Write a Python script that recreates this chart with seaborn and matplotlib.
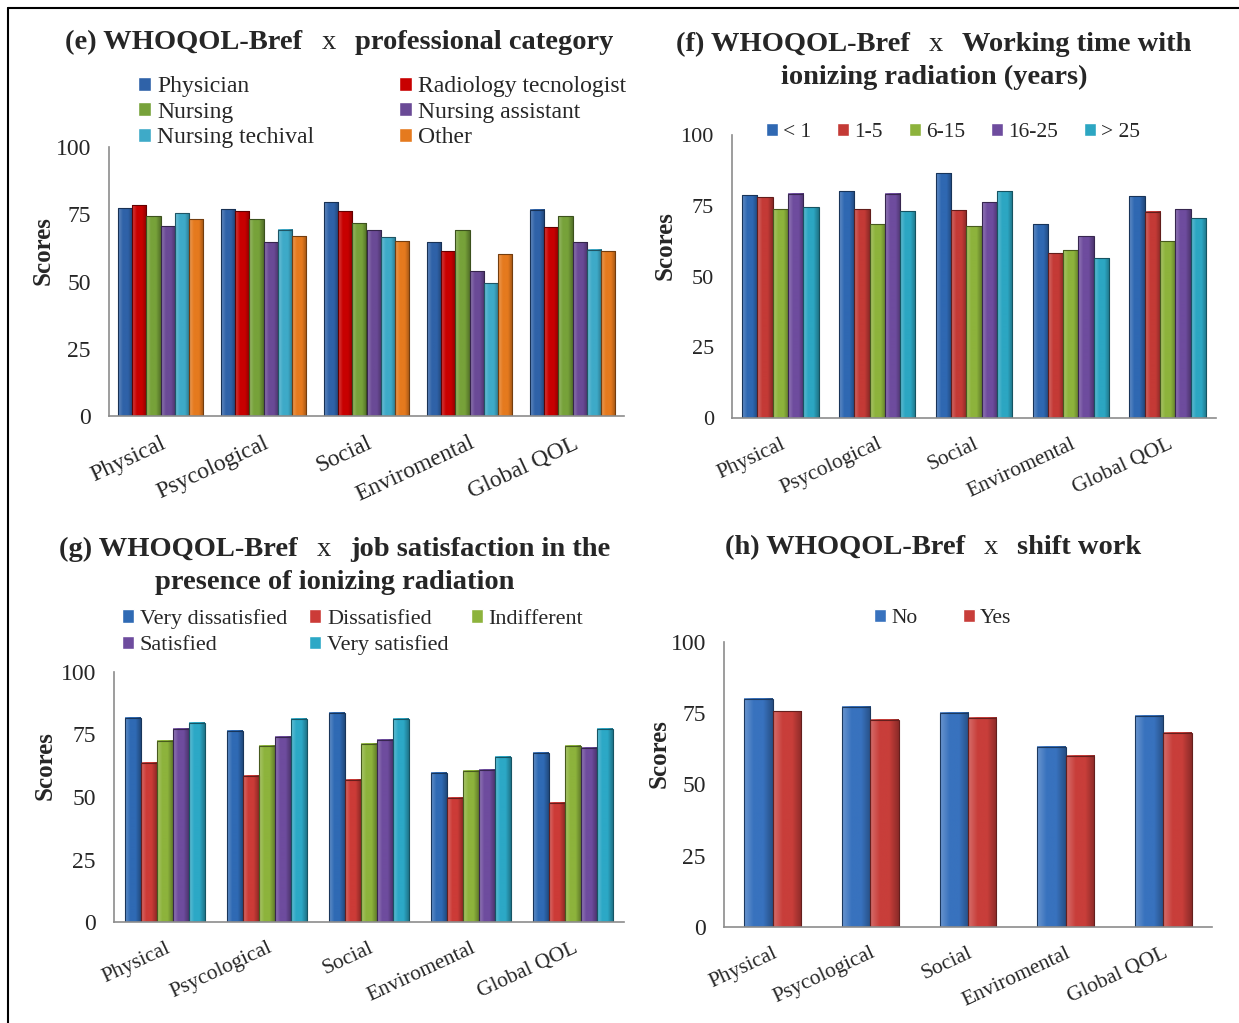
import numpy as np
import pandas as pd
import matplotlib.pyplot as plt
import matplotlib.colors as mcolors
from matplotlib.lines import Line2D
import seaborn as sns

# ----------------------------
# Datos
domains = ["Physical", "Psycological", "Social", "Enviromental", "Global QOL"]

# (e) professional category
prof_groups = ["Physician", "Radiology tecnologist", "Nursing",
               "Nursing assistant", "Nursing techival", "Other"]
prof_scores = [
    [77.3, 76.9, 79.5, 64.6, 76.6],  # Physician
    [78.4, 76.2, 76.2, 61.3, 70.1],  # Radiology tecnologist
    [74.3, 73.2, 71.7, 69.1, 74.3],  # Nursing
    [70.6, 64.6, 69.1, 53.8, 64.6],  # Nursing assistant
    [75.4, 69.2, 66.4, 49.4, 61.8],  # Nursing techival
    [73.2, 66.9, 65.0, 60.2, 61.3],  # Other
]
prof_colors = ["#2F62A8", "#C80000", "#77A23A", "#6A4A96", "#3EAAC8", "#E57A1E"]

# (f) working time with ionizing radiation
time_groups = ["< 1", "1-5", "6-15", "16-25", "> 25"]
time_scores = [
    [78.7, 80.1, 86.5, 68.5, 78.4],
    [78.0, 73.8, 73.4, 58.2, 72.8],
    [73.8, 68.4, 67.8, 59.3, 62.5],
    [79.2, 79.2, 76.2, 64.2, 73.8],
    [74.5, 73.1, 80.1, 56.5, 70.6],
]
time_colors = ["#2F68B2", "#C43A36", "#8DB33C", "#6E4C9E", "#2CA6C2"]

# (g) job satisfaction
satis_groups = ["Very dissatisfied", "Dissatisfied", "Indifferent",
                "Satisfied", "Very satisfied"]
satis_scores = [
    [81.7, 76.5, 83.7, 59.7, 67.7],
    [63.7, 58.5, 56.9, 49.7, 47.7],
    [72.5, 70.5, 71.3, 60.5, 70.5],
    [77.3, 74.1, 72.9, 60.9, 69.7],
    [79.7, 81.3, 81.3, 66.1, 77.3],
]
satis_colors = ["#2F6AB4", "#CC3B37", "#8DB33C", "#6E4C9E", "#2CA8C6"]

# (h) shift work
shift_groups = ["No", "Yes"]
shift_scores = [
    [80.1, 77.3, 75.2, 63.3, 74.2],
    [75.7, 72.7, 73.5, 60.1, 68.2],
]
shift_colors = ["#3872BE", "#C83E3A"]

# ----------------------------
sns.set_style("white")
plt.rcParams["font.family"] = ["Liberation Serif", "DejaVu Serif"]

W, H = 1239, 1023
fig = plt.figure(figsize=(W / 100, H / 100), dpi=100)
GREY = "#8C8C8C"


def tabla(groups, scores):
    filas = [(d, g, v) for g, vals in zip(groups, scores) for d, v in zip(domains, vals)]
    return pd.DataFrame(filas, columns=["domain", "group", "score"])


def sombrear(ax):
    # degradado horizontal en cada barra (aspecto "3D" del original)
    for p in list(ax.patches):
        if p.get_height() <= 0:
            continue
        fc = np.array(mcolors.to_rgb(p.get_facecolor()))
        claro = fc + (1 - fc) * 0.25
        oscuro = fc * 0.7
        cm = mcolors.LinearSegmentedColormap.from_list("b", [claro, fc, fc, oscuro])
        x0, w, h = p.get_x(), p.get_width(), p.get_height()
        ax.imshow(np.linspace(0, 1, 64)[None, :], extent=[x0, x0 + w, 0, h],
                  cmap=cm, aspect="auto", zorder=p.get_zorder() + 0.1)
        p.set_edgecolor(tuple(fc * 0.5))
        p.set_linewidth(0.8)
        p.set_zorder(p.get_zorder() + 0.2)
        p.set_facecolor("none")


def panel(rect_px, groups, scores, colors, width, ytick_fs, xtick_fs, label_right_px):
    l, t, r, b = rect_px
    ax = fig.add_axes([l / W, 1 - b / H, (r - l) / W, (b - t) / H])
    df = tabla(groups, scores)
    sns.barplot(data=df, x="domain", y="score", hue="group", order=domains,
                hue_order=groups, palette=colors, width=width, saturation=1,
                ax=ax)
    handles, labels = ax.get_legend_handles_labels()
    ax.get_legend().remove()
    sombrear(ax)
    ax.set_ylim(0, 100)
    ax.set_xlim(-0.5, 4.5)
    ax.set_yticks([0, 25, 50, 75, 100])
    ax.set_xticks(range(len(domains)))
    ax.set_xticklabels(domains, rotation=25, ha="right", rotation_mode="anchor",
                       fontsize=xtick_fs)
    ax.set_xticks(np.arange(-0.5, len(domains), 1), minor=True)
    ax.tick_params(axis="x", which="major", length=0, pad=12)
    ax.tick_params(axis="x", which="minor", length=6, width=1.2, color=GREY)
    ax.tick_params(axis="y", length=5, width=1.2, color=GREY, labelsize=ytick_fs, pad=8)
    for s in ["top", "right"]:
        ax.spines[s].set_visible(False)
    for s in ["left", "bottom"]:
        ax.spines[s].set_color(GREY)
        ax.spines[s].set_linewidth(1.2)
    ax.set_xlabel("")
    ax.set_ylabel("Scores", fontsize=18, weight="bold")
    # la etiqueta está algo por encima del centro del eje, como en el original
    ax.yaxis.set_label_coords((label_right_px - l) / (r - l), 0.5 + 31 / (b - t))
    return ax, handles, labels


def leyenda(ax, handles, labels, order, anchor_px, ncol, fs, colsp, lsp):
    h = [handles[i] for i in order]
    lb = [labels[i] for i in order]
    ax.legend(h, lb, ncol=ncol, loc="upper left",
              bbox_to_anchor=(anchor_px[0] / W, 1 - anchor_px[1] / H),
              bbox_transform=fig.transFigure, frameon=False, fontsize=fs,
              handlelength=0.55, handleheight=0.55, handletextpad=0.25,
              labelspacing=lsp, columnspacing=colsp, borderpad=0,
              borderaxespad=0)


def titulo(xc, y_px, partes, size=20.5, gap=19):
    textos = [fig.text(0, 1 - y_px / H, s, fontsize=size, weight=w,
                       va="baseline", ha="left") for s, w in partes]
    r = fig.canvas.get_renderer()
    anchos = [t.get_window_extent(r).width for t in textos]
    x = xc - (sum(anchos) + gap * (len(textos) - 1)) / 2
    for t, a in zip(textos, anchos):
        t.set_x(x / W)
        x += a + gap


# ----------------------------
ax_e, hd, lb = panel((109, 147, 624, 416), prof_groups, prof_scores, prof_colors,
                     0.82, 17, 17, 55)
leyenda(ax_e, hd, lb, [0, 2, 4, 1, 3, 5], (138, 76), 2, 17, 3.6, 0.2)
titulo(339, 49, [("(e) WHOQOL-Bref", "bold"), ("x", "normal"),
                 ("professional category", "bold")])

ax_f, hd, lb = panel((732, 135, 1216, 418), time_groups, time_scores, time_colors,
                     0.79, 16, 15.5, 677)
leyenda(ax_f, hd, lb, [0, 1, 2, 3, 4], (766, 123), 5, 15.5, 1.2, 0)
titulo(934, 51, [("(f) WHOQOL-Bref", "bold"), ("x", "normal"),
                 ("Working time with", "bold")])
fig.text(934 / W, 1 - 84 / H, "ionizing radiation (years)", fontsize=20.5,
         weight="bold", ha="center", va="baseline")

ax_g, hd, lb = panel((114, 672, 624, 922), satis_groups, satis_scores, satis_colors,
                     0.78, 17, 15.5, 57)
leyenda(ax_g, hd, lb, [0, 3, 1, 4, 2], (122, 609), 3, 16, 1.0, 0.3)
titulo(335, 556, [("(g) WHOQOL-Bref", "bold"), ("x", "normal"),
                  ("job satisfaction in the", "bold")])
fig.text(335 / W, 1 - 589 / H, "presence of ionizing radiation", fontsize=20.5,
         weight="bold", ha="center", va="baseline")

ax_h, hd, lb = panel((724, 642, 1212, 927), shift_groups, shift_scores, shift_colors,
                     0.58, 17, 15.5, 671)
leyenda(ax_h, hd, lb, [0, 1], (874, 609), 2, 15.5, 2.1, 0)
titulo(933, 554, [("(h) WHOQOL-Bref", "bold"), ("x", "normal"),
                  ("shift work", "bold")])

# marco exterior: sólo se ven los bordes izquierdo y superior
fig.add_artist(Line2D([8 / W, 8 / W], [0, 1 - 8 / H], color="black", lw=1.5,
                      transform=fig.transFigure))
fig.add_artist(Line2D([8 / W, 1], [1 - 8 / H, 1 - 8 / H], color="black", lw=1.5,
                      transform=fig.transFigure))

fig.savefig("out.png", dpi=100)
